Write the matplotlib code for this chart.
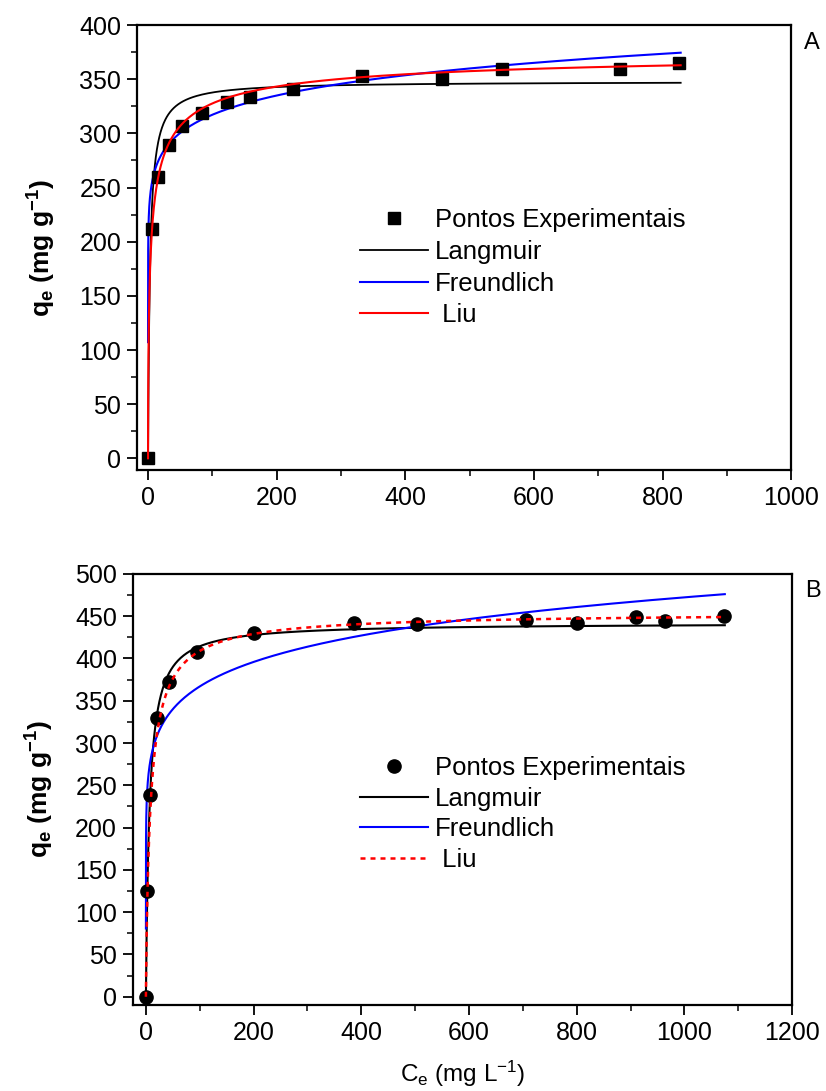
import numpy as np
import matplotlib
matplotlib.use("Agg")
import matplotlib.pyplot as plt

plt.rcParams.update({
    "font.family": ["Liberation Sans", "DejaVu Sans"],
    "font.size": 17,
    "axes.linewidth": 1.6,
    "xtick.direction": "out",
    "ytick.direction": "out",
    "xtick.major.size": 7.5,
    "ytick.major.size": 7.5,
    "xtick.minor.size": 4.5,
    "ytick.minor.size": 4.5,
    "xtick.major.width": 1.3,
    "ytick.major.width": 1.3,
    "xtick.minor.width": 1.1,
    "ytick.minor.width": 1.1,
    "mathtext.default": "regular",
})

ce_a = [0, 6, 15, 33, 53, 84, 122, 158, 225, 333, 457, 550, 733, 825]
qe_a = [0, 212, 260, 289, 307, 319, 329, 334, 341, 353, 350, 359, 359, 365]

ce_b = [0, 2, 8, 20, 42, 95, 200, 387, 503, 705, 800, 910, 964, 1073]
qe_b = [0, 125, 238, 330, 372, 408, 430, 442, 441, 446, 442, 449, 444, 450]

# ---- parametros dos ajustes ----
lang_a = (348.0, 0.33)          # qm, KL
freu_a = (221.0, 0.0785)        # KF, 1/n
liu_a = (380.0, 0.239, 0.578)   # qm, Kg, nL
lang_b = (442.0, 0.15)
freu_b = (221.5, 0.1096)
liu_b = (455.0, 0.114, 0.897)

legend_labels = ["Pontos Experimentais", "Langmuir", "Freundlich", " Liu"]


def langmuir(c, qm, k):
    return qm * k * c / (1 + k * c)


def freundlich(c, kf, inv_n):
    return kf * c ** inv_n


def liu(c, qm, kg, nl):
    x = (kg * c) ** nl
    return qm * x / (1 + x)


fig = plt.figure(figsize=(8.26, 10.91), dpi=100)
ax1 = fig.add_axes([0.166, 0.569, 0.792, 0.408])
ax2 = fig.add_axes([0.161, 0.079, 0.798, 0.395])

leg_kw = dict(loc="upper left", bbox_transform=fig.transFigure, frameon=False,
              borderpad=0, handlelength=2.65, handletextpad=0.28,
              numpoints=1, fontsize=18.5)

# =========================
# painel A
# =========================
c = np.concatenate([[0.0], np.logspace(-4, np.log10(828), 600)])
ax1.plot(ce_a, qe_a, "s", color="black", ms=8.5, label=legend_labels[0], zorder=3)
ax1.plot(c, langmuir(c, *lang_a), color="black", lw=1.3, label=legend_labels[1])
ax1.plot(c[1:], freundlich(c[1:], *freu_a), color="#0000ff", lw=1.5, label=legend_labels[2])
ax1.plot(c, liu(c, *liu_a), color="#ff0000", lw=1.5, label=legend_labels[3], zorder=4)

ax1.set_xlim(-17, 1000)
ax1.set_ylim(-11, 400)
ax1.set_xticks(np.arange(0, 1001, 200))
ax1.set_xticks(np.arange(100, 1000, 200), minor=True)
ax1.set_yticks(np.arange(0, 401, 50))
ax1.set_yticks(np.arange(25, 400, 50), minor=True)
ax1.set_ylabel("q$_e$ (mg g$^{-1}$)", fontsize=19, fontweight="bold", labelpad=15)
ax1.text(1.02, 0.985, "A", transform=ax1.transAxes, fontsize=17, va="top")
ax1.legend(bbox_to_anchor=(0.42, 0.821), labelspacing=0.30, **leg_kw)

# =========================
# painel B
# =========================
c = np.concatenate([[0.0], np.logspace(-4, np.log10(1075), 600)])
ax2.plot(ce_b, qe_b, "o", color="black", ms=9.5, label=legend_labels[0], zorder=3)
ax2.plot(c, langmuir(c, *lang_b), color="black", lw=1.5, label=legend_labels[1])
ax2.plot(c[1:], freundlich(c[1:], *freu_b), color="#0000ff", lw=1.5, label=legend_labels[2])
ax2.plot(c, liu(c, *liu_b), color="#ff0000", lw=1.8, ls=(0, (2, 2)), label=legend_labels[3], zorder=4)

ax2.set_xlim(-24, 1200)
ax2.set_ylim(-9.5, 500)
ax2.set_xticks(np.arange(0, 1201, 200))
ax2.set_xticks(np.arange(100, 1200, 200), minor=True)
ax2.set_yticks(np.arange(0, 501, 50))
ax2.set_yticks(np.arange(25, 500, 50), minor=True)
ax2.set_ylabel("q$_e$ (mg g$^{-1}$)", fontsize=19, fontweight="bold", labelpad=14)
ax2.set_xlabel("C$_e$ (mg L$^{-1}$)", fontsize=17.5, labelpad=10)
ax2.text(1.02, 0.985, "B", transform=ax2.transAxes, fontsize=17, va="top")
ax2.legend(bbox_to_anchor=(0.42, 0.3185), labelspacing=0.25, **leg_kw)

for ax in (ax1, ax2):
    ax.tick_params(labelsize=18, pad=4)

fig.savefig("out.png", dpi=100)
